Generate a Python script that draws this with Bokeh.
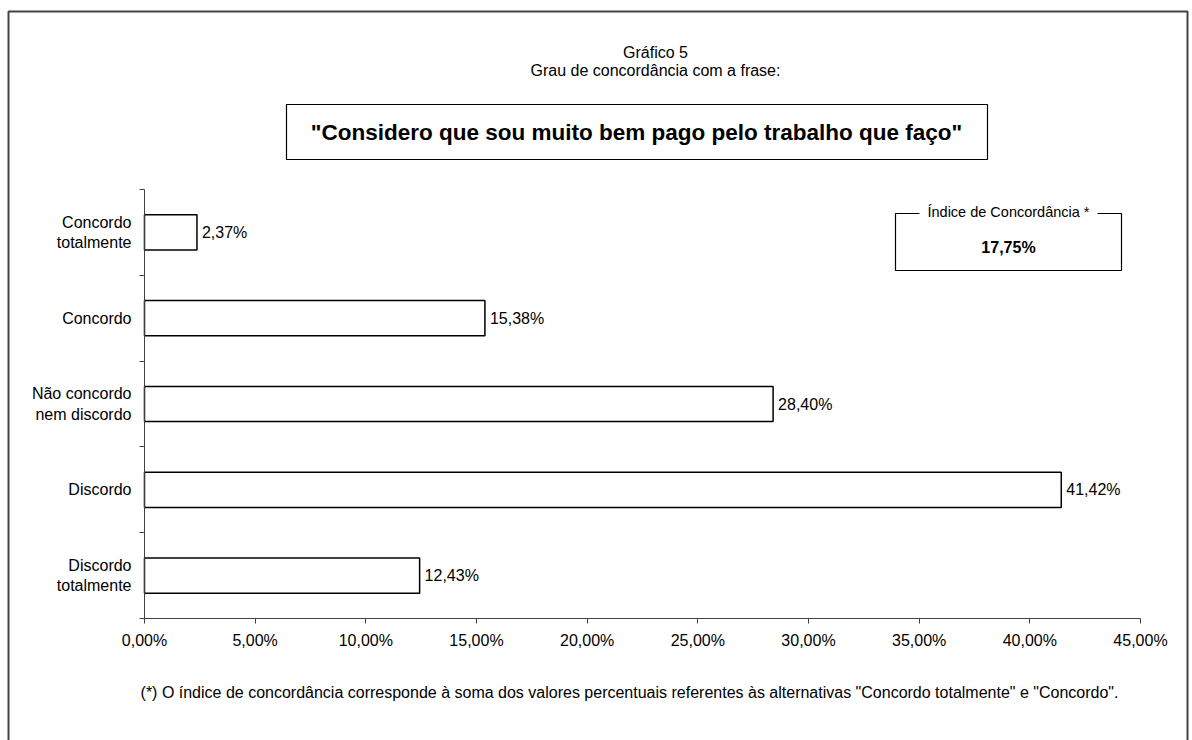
from bokeh.plotting import figure
from bokeh.models import Range1d, FixedTicker, CustomJSTickFormatter, Label, BoxAnnotation, ColumnDataSource
from bokeh.core.properties import value
from bokeh.embed import file_html
from bokeh.resources import INLINE

# ---- data ----
categories = ["Concordo\ntotalmente", "Concordo", "Não concordo\nnem discordo", "Discordo", "Discordo\ntotalmente"]
percentages = [2.37, 15.38, 28.40, 41.42, 12.43]
x_ticks = [0, 5, 10, 15, 20, 25, 30, 35, 40, 45]
title_line1 = "Gráfico 5"
title_line2 = "Grau de concordância com a frase:"
statement = '"Considero que sou muito bem pago pelo trabalho que faço"'
index_title = "Índice de Concordância *"
index_value = percentages[0] + percentages[1]
footnote = ('(*) O índice de concordância corresponde à soma dos valores percentuais referentes '
            'às alternativas "Concordo totalmente" e "Concordo".')

FONT = "Liberation Sans"


def fmt(v):
    return f"{v:.2f}".replace(".", ",") + "%"


# ---- layout (pixels) ----
W, H = 1192, 740
FL, FR, FT, FB = 144, 1140, 189, 618   # where the plot area sits on the page
XMAX = x_ticks[-1]
n = len(categories)


def px2x(px):
    return (px - FL) / (FR - FL) * XMAX


def py2y(py):
    return (FB - py) / (FB - FT) * n


p = figure(width=W, height=H, output_backend="svg", toolbar_location=None,
           x_range=Range1d(px2x(0), px2x(W)), y_range=Range1d(py2y(H), py2y(0)), title=None,
           min_border=0, min_border_left=0, min_border_right=0, min_border_top=0, min_border_bottom=0)
p.outline_line_color = None
p.xgrid.visible = False
p.ygrid.visible = False
p.background_fill_color = "white"
p.border_fill_color = "white"

AX = "#404040"
xa = p.xaxis[0]
xa.fixed_location = 0
xa.bounds = (0, XMAX)
xa.ticker = FixedTicker(ticks=x_ticks)
xa.formatter = CustomJSTickFormatter(code="return tick.toFixed(2).replace('.', ',') + '%';")
xa.major_tick_out = 5
xa.major_tick_in = 0
xa.minor_tick_line_color = None
xa.axis_line_color = AX
xa.major_tick_line_color = AX
xa.major_label_text_font = FONT
xa.major_label_text_font_size = "16px"
xa.major_label_text_color = "black"
xa.major_label_standoff = 8

ya = p.yaxis[0]
ya.fixed_location = 0
ya.bounds = (0, n)
ya.ticker = FixedTicker(ticks=list(range(n + 1)))
ya.formatter = CustomJSTickFormatter(code="return '';")
ya.major_tick_out = 5
ya.major_tick_in = 0
ya.minor_tick_line_color = None
ya.axis_line_color = AX
ya.major_tick_line_color = AX

ypos = [n - i - 0.5 for i in range(n)]
src = ColumnDataSource(dict(y=ypos, v=percentages, lbl=[fmt(v) for v in percentages], cat=categories))
p.hbar(y="y", left=0, right="v", height=0.41, source=src,
       fill_color="white", line_color="black", line_width=1.5)
p.text(x="v", y="y", text="lbl", source=src, x_offset=5, text_baseline="middle", text_align="left",
       text_font=value(FONT), text_font_size="16px", text_color="black")

for cat, y in zip(categories, ypos):
    p.add_layout(Label(x=px2x(131), y=y, text=cat, text_align="right", text_baseline="middle",
                       text_font=FONT, text_font_size="16px", text_color="black", text_line_height=1.2))

# outer frame
p.add_layout(BoxAnnotation(left=px2x(8), right=px2x(1187), top=py2y(11), bottom=py2y(770),
                           fill_color=None, line_color="#444444", line_alpha=1, line_width=2))

# titles
p.add_layout(Label(x=px2x(655), y=py2y(52), text=title_line1, text_align="center", text_baseline="middle",
                   text_font=FONT, text_font_size="16px", text_color="black"))
p.add_layout(Label(x=px2x(655), y=py2y(70), text=title_line2, text_align="center", text_baseline="middle",
                   text_font=FONT, text_font_size="16px", text_color="black"))

# statement box
p.add_layout(BoxAnnotation(left=px2x(286), right=px2x(987), top=py2y(104), bottom=py2y(159),
                           fill_color=None, line_color="black", line_alpha=1, line_width=1.2))
p.add_layout(Label(x=px2x(636), y=py2y(131.5), text=statement, text_align="center", text_baseline="middle",
                   text_font=FONT, text_font_size="22.5px", text_font_style="bold", text_color="black"))

# index box
p.add_layout(BoxAnnotation(left=px2x(895), right=px2x(1121), top=py2y(213), bottom=py2y(270),
                           fill_color=None, line_color="black", line_alpha=1, line_width=1.2))
p.add_layout(Label(x=px2x(1008), y=py2y(211), text=index_title, text_align="center", text_baseline="middle",
                   text_font=FONT, text_font_size="14.5px", text_color="black",
                   background_fill_color="white", padding=8))
p.add_layout(Label(x=px2x(1008), y=py2y(247), text=fmt(index_value), text_align="center", text_baseline="middle",
                   text_font=FONT, text_font_size="16px", text_font_style="bold", text_color="black"))

# footnote
p.add_layout(Label(x=px2x(629), y=py2y(692), text=footnote, text_align="center", text_baseline="middle",
                   text_font=FONT, text_font_size="16px", text_color="black"))

open("out.html", "w").write(file_html(p, INLINE))
